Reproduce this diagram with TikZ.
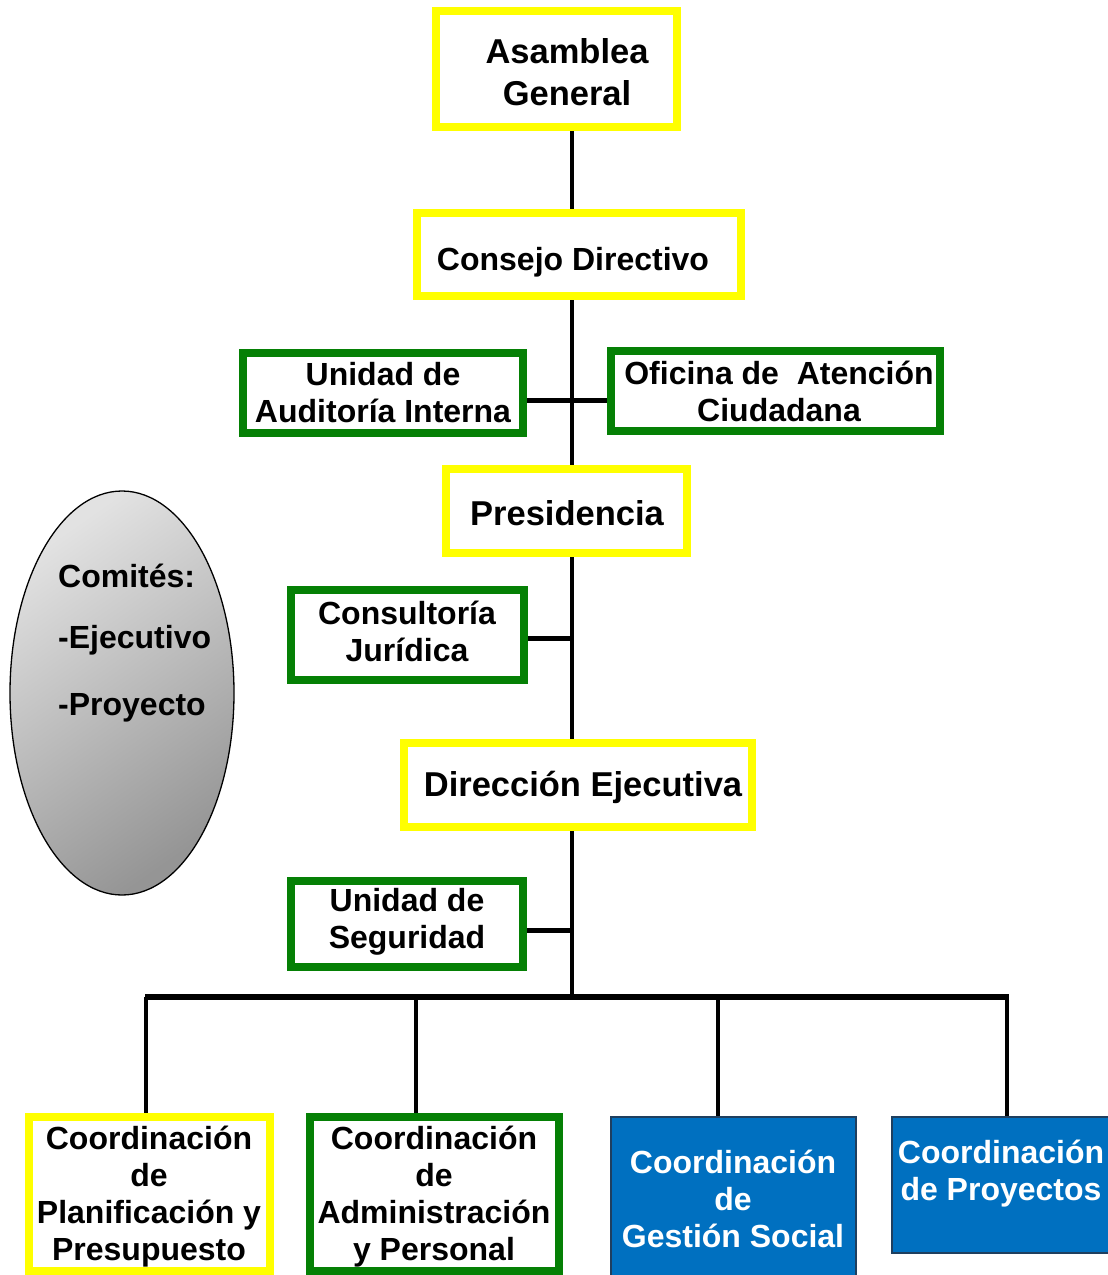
\documentclass[tikz,border=0pt]{standalone}
\usepackage{fontspec}
\setmainfont{Liberation Sans}
\usetikzlibrary{shapes.geometric}
\definecolor{ybox}{HTML}{FFFF00}
\definecolor{gbox}{HTML}{058005}
\definecolor{bbox}{HTML}{0070C0}
\definecolor{bedge}{HTML}{1F3F5F}
\definecolor{elltop}{HTML}{E2E2E2}
\definecolor{ellbot}{HTML}{959595}
\tikzset{
  frame/.style={draw, rectangle, line width=8pt, fill=white, inner sep=0pt},
  ybx/.style={frame, draw=ybox},
  gbx/.style={frame, draw=gbox},
  bbx/.style={rectangle, draw=bedge, line width=1.5pt, fill=bbox, inner sep=0pt},
  lbl/.style={align=center, inner sep=0pt, font=\bfseries\fontsize{32}{37}\selectfont},
  biglbl/.style={align=center, inner sep=0pt, font=\bfseries\fontsize{34.5}{42}\selectfont},
  wlbl/.style={lbl, text=white},
  clbl/.style={anchor=west, inner sep=0pt, font=\bfseries\fontsize{32}{37}\selectfont},
  spine/.style={line width=4.5pt},
  side/.style={line width=5pt},
  bus/.style={line width=6pt},
  drop/.style={line width=4.5pt},
}
\begin{document}
\begin{tikzpicture}[x=1pt, y=-1pt]
\useasboundingbox (0,0) rectangle (1108,1275);
% ellipse of committees
\node[ellipse, draw=black, line width=1.3pt, minimum width=224pt, minimum height=404pt,
      top color=elltop, bottom color=ellbot, shading angle=35, inner sep=0pt] (com) at (122,693) {};
\node[clbl] (c1) at (58,576) {Comités:};
\node[clbl] (c2) at (58,640) {-Ejecutivo};
\node[clbl] (c3) at (58,708) {-Proyecto};

% boxes
\node[ybx, minimum width=241pt, minimum height=116pt] (AG) at (556.5,69) {};
\node[ybx, minimum width=324pt, minimum height=83pt] (CD) at (579,254.5) {};
\node[gbx, minimum width=280pt, minimum height=80pt] (UA) at (383,393) {};
\node[gbx, minimum width=329pt, minimum height=80pt] (OA) at (775.5,391) {};
\node[ybx, minimum width=241pt, minimum height=84pt] (PR) at (566.5,511) {};
\node[gbx, minimum width=233pt, minimum height=90pt] (CJ) at (407.5,635) {};
\node[ybx, minimum width=348pt, minimum height=84pt] (DE) at (578,785) {};
\node[gbx, minimum width=232pt, minimum height=86pt] (US) at (407,924) {};
\node[ybx, minimum width=241pt, minimum height=154pt] (P1) at (149.5,1194) {};
\node[gbx, minimum width=249pt, minimum height=154pt] (P2) at (434.5,1194) {};
\node[bbx, minimum width=245pt, minimum height=173pt] (P3) at (733.5,1203.5) {};
\node[bbx, minimum width=223pt, minimum height=136pt] (P4) at (1003.5,1185) {};

% labels
\node[biglbl] (tAG) at (567,72) {Asamblea\\General};
\node[lbl] (tCD) at (573,262) {Consejo Directivo};
\node[lbl] (tUA) at (383,393) {Unidad de\\Auditoría Interna};
\node[lbl] (tOA) at (779,391) {Oficina de\ \ Atención\\Ciudadana};
\node[biglbl] (tPR) at (567,513) {Presidencia};
\node[lbl] (tCJ) at (407,631.5) {Consultoría\\Jurídica};
\node[biglbl] (tDE) at (583,787) {Dirección Ejecutiva};
\node[lbl] (tUS) at (407,922) {Unidad de\\Seguridad};
\node[lbl] (tP1) at (149,1196.5) {Coordinación\\de\\Planificación y\\Presupuesto};
\node[lbl] (tP2) at (434,1196.5) {Coordinación\\de\\Administración\\y Personal};
\node[wlbl] (tP3) at (733,1198.5) {Coordinación\\de\\Gestión Social};
\node[wlbl] (tP4) at (1001,1174) {Coordinación\\de Proyectos};

% junction coordinates
\coordinate (sp) at (572,0);
\coordinate (j1) at (572,400);
\coordinate (j2) at (572,638);
\coordinate (j3) at (572,930);
\coordinate (bl) at (145,997);
\coordinate (br) at (1009,997);
\coordinate (d1) at (146,997);
\coordinate (d2) at (416,997);
\coordinate (d3) at (718,997);
\coordinate (d4) at (1007,997);

% spine
\draw[spine] (AG.south -| sp) -- (CD.north -| sp);
\draw[spine] (CD.south -| sp) -- (PR.north -| sp);
\draw[spine] (PR.south -| sp) -- (DE.north -| sp);
\draw[spine] (DE.south -| sp) -- (bl -| sp);
% side branches
\draw[side] (UA.east |- j1) -- (OA.west |- j1);
\draw[side] (CJ.east |- j2) -- (j2);
\draw[side] (US.east |- j3) -- (j3);
% bus and drops
\draw[bus] (bl) -- (br);
\draw[drop] (d1) -- (d1 |- P1.north);
\draw[drop] (d2) -- (d2 |- P2.north);
\draw[drop] (d3) -- (d3 |- P3.north);
\draw[drop] (d4) -- (d4 |- P4.north);
\end{tikzpicture}
\end{document}
